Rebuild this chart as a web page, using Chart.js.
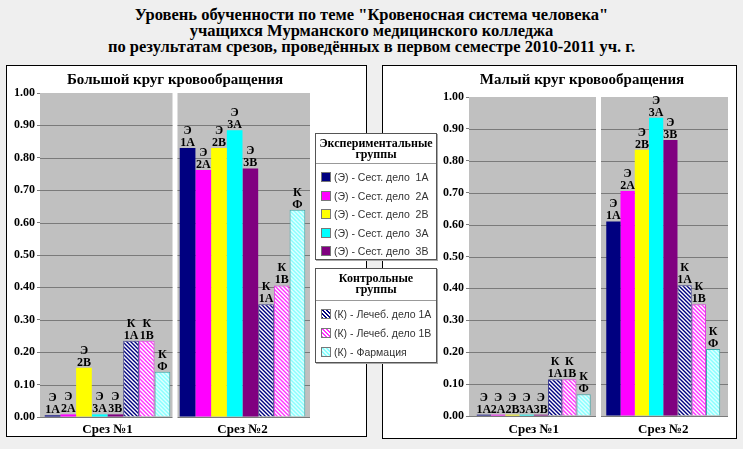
<!DOCTYPE html>
<html>
<head>
<meta charset="utf-8">
<script src="https://cdn.jsdelivr.net/npm/chart.js@4.4.0/dist/chart.umd.min.js"></script>
<style>
  body { margin: 0; width: 743px; height: 449px; background: #efefef; position: relative; overflow: hidden; font-family: 'Liberation Serif', 'Times New Roman', serif; }
  #title { position: absolute; left: 0; top: 7px; width: 743px; text-align: center; font-weight: bold; font-size: 16.5px; line-height: 16px; }
  .panel { position: absolute; background: #fff; border: 1px solid #000; }
  #leftPanel { left: 6px; top: 65px; width: 359px; height: 370px; }
  #rightPanel { left: 382px; top: 65px; width: 353px; height: 372px; }
  .panel div { position: absolute; left: 0; top: 0; width: 100%; height: 100%; }
  .legend { position: absolute; left: 315px; width: 120px; background: #fff; border: 1px solid #555; box-shadow: 1px 1px 0 #aaa;
            font-family: 'Liberation Sans', Arial, sans-serif; font-size: 10.5px; color: #333; }
  .legend .head { font-family: 'Liberation Serif', 'Times New Roman', serif; font-weight: bold; font-size: 12px; color: #000; text-align: center;
                  line-height: 11px; border-bottom: 1px solid #999; }
  .legend .item { display: flex; align-items: center; padding-left: 5px; white-space: pre; }
  .sw { width: 8px; height: 8px; margin-right: 3px; border: 1px solid #777; flex: none; }
</style>
</head>
<body>
<div id="title">Уровень обученности по теме "Кровеносная система человека"<br>учащихся Мурманского медицинского колледжа<br>по результатам срезов, проведённых в первом семестре 2010-2011 уч. г.</div>

<div class="panel" id="leftPanel"><div><canvas id="bigChart"></canvas></div></div>
<div class="panel" id="rightPanel"><div><canvas id="smallChart"></canvas></div></div>

<div class="legend" id="legendExp" style="top:133px;height:125px">
  <div class="head" style="padding:4px 0 3px">Экспериментальные<br>группы</div>
  <div id="expItems" style="padding-top:4px"></div>
</div>
<div class="legend" id="legendCtl" style="top:268px;height:93px">
  <div class="head" style="padding:4px 0 5px">Контрольные<br>группы</div>
  <div id="ctlItems" style="padding-top:3px"></div>
</div>

<script>
// Data
const categories = ['Срез №1', 'Срез №2'];
const groupLetters = ['Э', 'Э', 'Э', 'Э', 'Э', 'К', 'К', 'К'];
const groupCodes = ['1А', '2А', '2В', '3А', '3В', '1А', '1В', 'Ф'];
const seriesNames = [
  '(Э) - Сест. дело  1А', '(Э) - Сест. дело  2А', '(Э) - Сест. дело  2В',
  '(Э) - Сест. дело  3А', '(Э) - Сест. дело  3В',
  '(К) - Лечеб. дело 1А', '(К) - Лечеб. дело 1В', '(К) - Фармация'
];
const bigCut1 = [0.005, 0.008, 0.152, 0.008, 0.008, 0.235, 0.235, 0.14];
const bigCut2 = [0.83, 0.762, 0.83, 0.885, 0.767, 0.348, 0.406, 0.64];
const smallCut1 = [0.004, 0.004, 0.004, 0.004, 0.004, 0.115, 0.115, 0.068];
const smallCut2 = [0.61, 0.705, 0.835, 0.935, 0.865, 0.41, 0.35, 0.21];
const yTicks = [0, 0.1, 0.2, 0.3, 0.4, 0.5, 0.6, 0.7, 0.8, 0.9, 1.0];

const serif = '"Liberation Serif", "Times New Roman", serif';

// Colours
const solidColors = ['#000080', '#ff00ff', '#ffff00', '#00ffff', '#800080'];

function makeHatch(line, bg) {
  const c = document.createElement('canvas');
  c.width = 4; c.height = 4;
  const g = c.getContext('2d');
  g.fillStyle = bg;
  g.fillRect(0, 0, 4, 4);
  g.strokeStyle = line;
  g.lineWidth = 1.4;
  g.beginPath();
  g.moveTo(-1, -1); g.lineTo(5, 5);
  g.moveTo(-1, 3); g.lineTo(1, 5);
  g.moveTo(3, -1); g.lineTo(5, 1);
  g.stroke();
  return g.createPattern(c, 'repeat');
}

const hatchFills = [
  makeHatch('#000080', '#ffffff'),
  makeHatch('#ff33ff', '#ffffff'),
  makeHatch('#e0ffff', '#88ffff')
];
const hatchBorders = ['#404090', '#e040e0', '#40a8a8'];
const cssHatch = [
  'repeating-linear-gradient(45deg,#000080 0 1.4px,#fff 1.4px 2.8px)',
  'repeating-linear-gradient(45deg,#ff33ff 0 1.4px,#fff 1.4px 2.8px)',
  'repeating-linear-gradient(45deg,#88ffff 0 1.4px,#e0ffff 1.4px 2.8px)'
];

// Legend
const expItems = document.getElementById('expItems');
const ctlItems = document.getElementById('ctlItems');
seriesNames.forEach((name, i) => {
  const row = document.createElement('div');
  row.className = 'item';
  row.style.height = i < 5 ? '18.5px' : '19px';
  const sw = document.createElement('span');
  sw.className = 'sw';
  sw.style.background = i < 5 ? solidColors[i] : cssHatch[i - 5];
  row.appendChild(sw);
  row.appendChild(document.createTextNode(name));
  (i < 5 ? expItems : ctlItems).appendChild(row);
});

// Grey plot areas with a white gap between the cuts, plus grid lines
const plotBackground = {
  id: 'plotBackground',
  beforeDatasetsDraw(chart) {
    const { ctx, chartArea: a, scales } = chart;
    const n = categories.length;
    const w = a.width / n;
    const gap = 2.5;
    ctx.save();
    for (let i = 0; i < n; i++) {
      const l = a.left + i * w + (i > 0 ? gap : 0);
      const r = a.left + (i + 1) * w - (i < n - 1 ? gap : 0);
      ctx.fillStyle = '#c0c0c0';
      ctx.fillRect(l, a.top, r - l, a.bottom - a.top);
      ctx.strokeStyle = '#7a7a7a';
      ctx.lineWidth = 1;
      yTicks.slice(0, -1).forEach(v => {
        const y = Math.round(scales.y.getPixelForValue(v)) + 0.5;
        ctx.beginPath();
        ctx.moveTo(l, y);
        ctx.lineTo(r, y);
        ctx.stroke();
      });
    }
    ctx.restore();
  }
};

// Two-line labels above each bar
const barLabels = {
  id: 'barLabels',
  afterDatasetsDraw(chart) {
    const ctx = chart.ctx;
    ctx.save();
    ctx.font = 'bold 12px ' + serif;
    ctx.fillStyle = '#000';
    ctx.textAlign = 'center';
    ctx.textBaseline = 'alphabetic';
    chart.data.datasets.forEach((ds, d) => {
      chart.getDatasetMeta(d).data.forEach(bar => {
        ctx.fillText(groupCodes[d], bar.x, bar.y - 2);
        ctx.fillText(groupLetters[d], bar.x, bar.y - 14);
      });
    });
    ctx.restore();
  }
};

function makeDatasets(cut1, cut2) {
  return seriesNames.map((name, i) => ({
    label: name,
    data: [cut1[i], cut2[i]],
    backgroundColor: i < 5 ? solidColors[i] : hatchFills[i - 5],
    borderColor: i < 5 ? solidColors[i] : hatchBorders[i - 5],
    borderWidth: i < 5 ? 0 : 1,
    barPercentage: 1.0
  }));
}

function makeChart(id, titleText, cut1, cut2, lay) {
  return new Chart(document.getElementById(id), {
    type: 'bar',
    data: { labels: categories, datasets: makeDatasets(cut1, cut2) },
    options: {
      responsive: true,
      maintainAspectRatio: false,
      animation: false,
      categoryPercentage: lay.catPct,
      layout: { padding: { left: lay.left, right: lay.right, top: 0, bottom: 0 } },
      plugins: {
        legend: { display: false },
        tooltip: { enabled: false },
        title: {
          display: true,
          fullSize: lay.titleFull,
          text: titleText,
          color: '#000',
          font: { family: serif, size: 15, weight: 'bold' },
          padding: { top: lay.titleTop, bottom: lay.titleBottom }
        }
      },
      scales: {
        x: {
          grid: { display: false, drawTicks: false },
          border: { display: false },
          ticks: { color: '#000', padding: lay.xPad, font: { family: serif, size: 13, weight: 'bold' } },
          afterFit: s => { s.height = lay.xHeight; }
        },
        y: {
          min: 0,
          max: 1,
          afterBuildTicks: s => { s.ticks = yTicks.map(v => ({ value: v })); },
          afterFit: s => { s.width = lay.yWidth; },
          grid: { drawOnChartArea: false, tickLength: 3, color: '#7a7a7a' },
          border: { display: true, color: '#9a9a9a' },
          ticks: {
            color: '#000',
            padding: 2,
            font: { family: serif, size: 12, weight: 'bold' },
            callback: v => Number(v).toFixed(2)
          }
        }
      }
    },
    plugins: [plotBackground, barLabels]
  });
}

makeChart('bigChart', 'Большой круг кровообращения', bigCut1, bigCut2,
  { left: 0, right: 56, yWidth: 33, titleTop: 5, titleBottom: 4, titleFull: false, xHeight: 19, xPad: 5, catPct: 0.93 });
makeChart('smallChart', 'Малый круг кровообращения', smallCut1, smallCut2,
  { left: 53, right: 8, yWidth: 33, titleTop: 5, titleBottom: 8, titleFull: true, xHeight: 22, xPad: 6, catPct: 0.88 });
</script>
</body>
</html>
